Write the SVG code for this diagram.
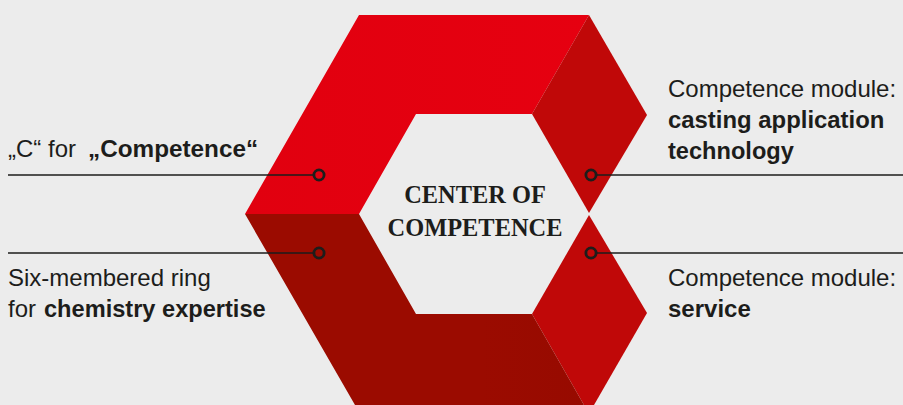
<svg xmlns="http://www.w3.org/2000/svg" width="903" height="405" viewBox="0 0 903 405">
<defs>
<linearGradient id="gt" gradientUnits="userSpaceOnUse" x1="245" y1="0" x2="589" y2="0"><stop offset="0" stop-color="#e1000f"/><stop offset="1" stop-color="#e60010"/></linearGradient>
<linearGradient id="gb" gradientUnits="userSpaceOnUse" x1="245" y1="0" x2="584" y2="0"><stop offset="0.7" stop-color="#9b0b00"/><stop offset="1" stop-color="#970a00"/></linearGradient>
</defs>
<style>
.t{font-family:"Liberation Sans",Arial,sans-serif;font-size:24px;fill:#1d1d1b}
.b{font-weight:700}
.c{font-family:"Liberation Serif","Times New Roman",serif;font-size:24.4px;font-weight:700;fill:#1d1d1b;text-anchor:middle}
.l{stroke:#1d1d1b;stroke-width:1.4;fill:none}
.d{stroke:#1d1d1b;stroke-width:2.8;fill:none}
</style>
<rect width="903" height="405" fill="#ececec"/>
<g id="c-upper"><polygon points="359,15 589,15 532,114 416,114 359,214 245,214" fill="url(#gt)"/></g>
<g id="module-casting"><polygon points="589,15 647,115 589,213 532,114" fill="#c00808"/></g>
<g id="module-service"><polygon points="589,215 647,313 594,405 584,405 532,314" fill="#c00808"/></g>
<g id="c-lower"><polygon points="245,214 359,214 416,314 532,314 584,405 355,405" fill="url(#gb)"/></g>
<g id="center"><text class="c" x="475" y="203">CENTER OF</text><text class="c" x="475" y="236">COMPETENCE</text></g>
<g id="connectors">
<path class="l" d="M8 175H314M8 253H314M596 175H903M596 253H903"/>
<circle class="d" cx="319" cy="175" r="5.1"/><circle class="d" cx="319" cy="253" r="5.1"/><circle class="d" cx="591" cy="175" r="5.1"/><circle class="d" cx="591" cy="253" r="5.1"/>
</g>
<g id="label-c"><text class="t" x="8" y="157">„C“ for <tspan class="b" x="88" style="font-size:24.3px">„Competence“</tspan></text></g>
<g id="label-ring"><text class="t" x="8" y="286">Six-membered ring</text><text class="t" x="8" y="317">for <tspan class="b" x="44" style="font-size:23.6px">chemistry expertise</tspan></text></g>
<g id="label-casting"><text class="t" x="668" y="97">Competence module:</text><text class="t b" x="668" y="128" style="font-size:23.9px">casting application</text><text class="t b" x="668" y="159" style="font-size:23.6px">technology</text></g>
<g id="label-service"><text class="t" x="668" y="286">Competence module:</text><text class="t b" x="668" y="317">service</text></g>
</svg>
